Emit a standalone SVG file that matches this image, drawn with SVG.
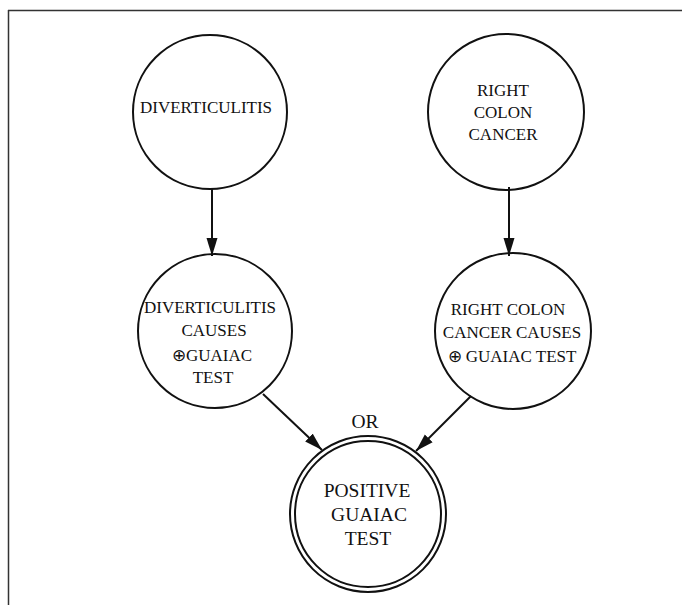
<svg xmlns="http://www.w3.org/2000/svg" width="682" height="605" viewBox="0 0 682 605">
<style>
.n{fill:none;stroke:#111;stroke-width:2}
.t{font-family:"Liberation Serif","Times New Roman",serif;font-size:17px;fill:#111;text-anchor:middle}
.b{font-size:19.5px}
.c{stroke:#111;stroke-width:2;fill:none}
</style>
<defs>
<marker id="ah" markerUnits="userSpaceOnUse" markerWidth="20" markerHeight="12" refX="18" refY="6" orient="auto">
<path d="M0,0.5 L18,6 L0,11.5 Z" fill="#111"/>
</marker>
</defs>
<rect width="682" height="605" fill="#fff"/>
<g id="frame">
<line x1="8.5" y1="10" x2="8.5" y2="605" stroke="#333" stroke-width="1.5"/>
<line x1="8" y1="10.5" x2="682" y2="10.5" stroke="#333" stroke-width="1.5"/>
</g>
<g id="connectors">
<line class="c" x1="212" y1="188" x2="212" y2="256" marker-end="url(#ah)"/>
<line class="c" x1="509" y1="187" x2="509" y2="256" marker-end="url(#ah)"/>
<line class="c" x1="263" y1="394" x2="322" y2="450" marker-end="url(#ah)"/>
<line class="c" x1="471" y1="396" x2="416" y2="451" marker-end="url(#ah)"/>
</g>
<g id="diverticulitis">
<circle class="n" cx="210" cy="112" r="77"/>
<text class="t" x="206" y="113">DIVERTICULITIS</text>
</g>
<g id="right-colon-cancer">
<circle class="n" cx="506" cy="112" r="78"/>
<text class="t" x="503" y="96">RIGHT</text>
<text class="t" x="503" y="118">COLON</text>
<text class="t" x="503" y="140">CANCER</text>
</g>
<g id="diverticulitis-causes">
<circle class="n" cx="215" cy="331" r="77"/>
<text class="t" x="210" y="313">DIVERTICULITIS</text>
<text class="t" x="214" y="336">CAUSES</text>
<text class="t" x="212" y="361">⊕GUAIAC</text>
<text class="t" x="213" y="383">TEST</text>
</g>
<g id="right-colon-causes">
<circle class="n" cx="513" cy="331" r="78"/>
<text class="t" x="508" y="315">RIGHT COLON</text>
<text class="t" x="512" y="338">CANCER CAUSES</text>
<text class="t" x="512" y="362">⊕ GUAIAC TEST</text>
</g>
<g id="positive-guaiac-test">
<circle class="n" cx="368" cy="514" r="78"/>
<circle class="n" cx="368" cy="514" r="73"/>
<text class="t b" x="365" y="428">OR</text>
<text class="t b" x="367" y="497">POSITIVE</text>
<text class="t b" x="369" y="521">GUAIAC</text>
<text class="t b" x="368" y="545">TEST</text>
</g>
</svg>
